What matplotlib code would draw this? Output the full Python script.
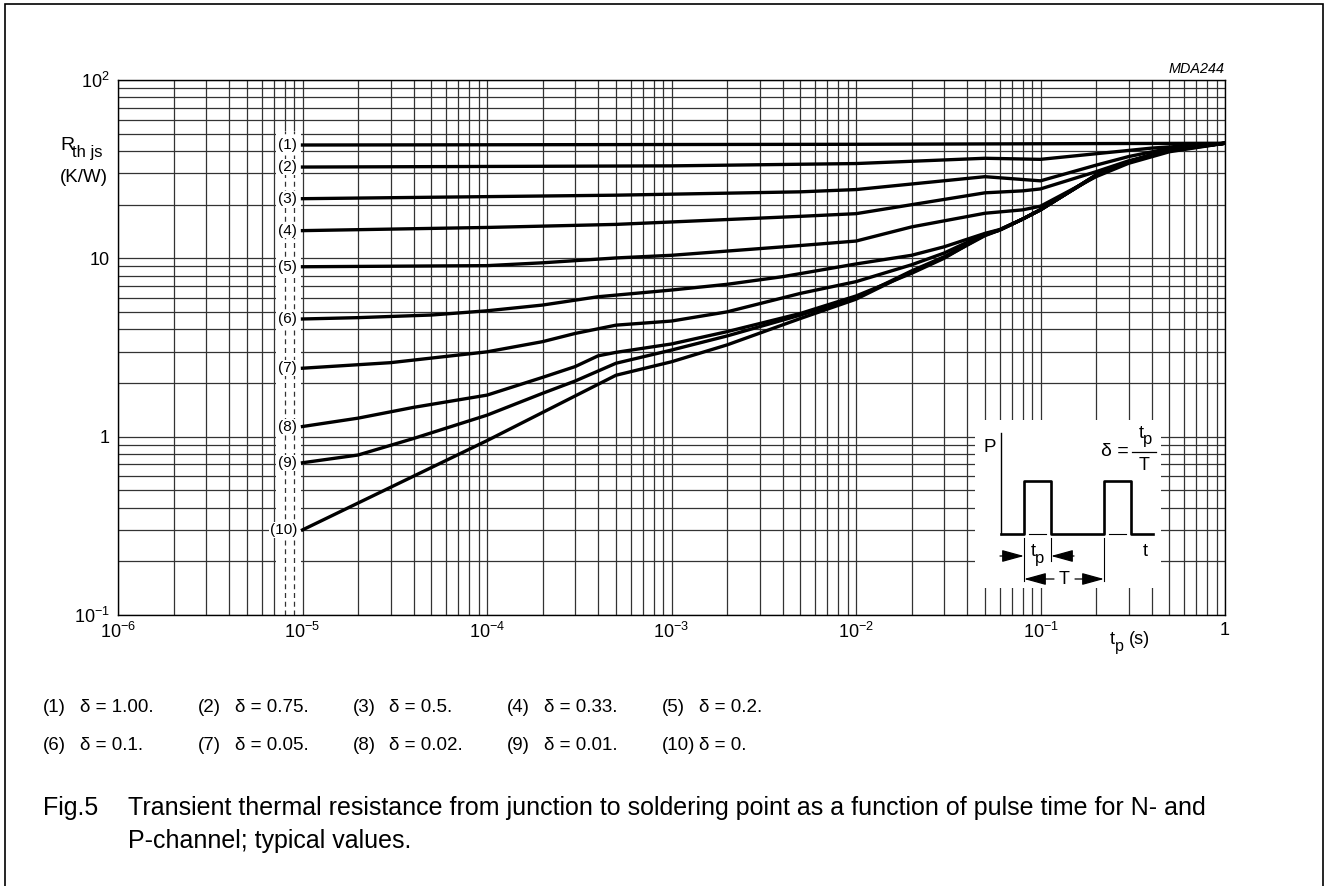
import matplotlib
matplotlib.use("Agg")
import matplotlib.pyplot as plt
from matplotlib.patches import Rectangle

plt.rcParams['font.family'] = ['Liberation Sans', 'DejaVu Sans']
plt.rcParams['mathtext.fontset'] = 'custom'
plt.rcParams['mathtext.rm'] = 'Liberation Sans'
plt.rcParams['mathtext.it'] = 'Liberation Sans:italic'

# Valeurs (tp en s, Rth js en K/W)
t_1 = [1e-5, 1e-2, 1]
r_1 = [43.2, 43.6, 44.2]
t_2 = [1e-5, 1e-3, 1e-2, 5e-2, 0.1, 0.2, 0.4, 1]
r_2 = [32.5, 33.0, 34.0, 36.4, 35.9, 38.6, 41.5, 44.2]
t_3 = [1e-5, 5e-4, 5e-3, 1e-2, 5e-2, 0.1, 0.2, 0.3, 0.5, 1]
r_3 = [21.6, 22.6, 23.6, 24.3, 28.7, 27.2, 33.3, 37.2, 41.4, 44.2]
t_4 = [1e-5, 1e-4, 5e-4, 5e-3, 1e-2, 5e-2, 8e-2, 0.1, 0.2, 0.3, 0.5, 1]
r_4 = [14.3, 14.9, 15.5, 17.2, 17.8, 23.3, 23.9, 24.5, 30.6, 35.2, 40.1, 44.2]
t_5 = [1e-5, 1e-4, 2e-4, 5e-4, 1e-3, 5e-3, 1e-2, 2e-2, 5e-2, 8e-2, 0.1, 0.2, 0.3, 0.5, 1]
r_5 = [8.97, 9.1, 9.44, 10.05, 10.4, 11.8, 12.5, 15.0, 17.9, 18.7, 19.6, 28.7, 34.1, 39.6, 44.2]
t_6 = [1e-5, 2e-5, 5e-5, 1e-4, 2e-4, 4e-4, 1e-3, 2e-3, 4e-3, 1e-2, 2e-2, 3e-2, 5e-2, 6e-2, 8e-2, 0.1, 0.2, 0.3, 0.5, 1]
r_6 = [4.57, 4.65, 4.81, 5.08, 5.47, 6.09, 6.64, 7.15, 7.89, 9.3, 10.4, 11.6, 13.8, 14.5, 16.6, 18.8, 29.0, 34.6, 40.6, 44.2]
t_7 = [1e-5, 3e-5, 1e-4, 2e-4, 3e-4, 5e-4, 1e-3, 2e-3, 5e-3, 1e-2, 2e-2, 3e-2, 5e-2, 6e-2, 8e-2, 0.1, 0.2, 0.3, 0.5, 1]
r_7 = [2.42, 2.6, 2.99, 3.41, 3.79, 4.22, 4.45, 5.01, 6.36, 7.4, 9.2, 10.7, 13.7, 14.4, 16.6, 18.7, 29.2, 34.7, 40.7, 44.2]
t_8 = [1e-5, 2e-5, 4e-5, 1e-4, 2e-4, 3e-4, 4e-4, 5e-4, 1e-3, 2e-3, 5e-3, 1e-2, 2e-2, 3e-2, 5e-2, 6e-2, 8e-2, 0.1, 0.2, 0.3, 0.5, 1]
r_8 = [1.14, 1.27, 1.46, 1.71, 2.15, 2.47, 2.84, 2.97, 3.31, 3.88, 4.91, 6.15, 8.24, 10.0, 13.6, 14.4, 16.6, 18.7, 29.3, 34.8, 40.8, 44.2]
t_9 = [1e-5, 2e-5, 4e-5, 1e-4, 2e-4, 3e-4, 5e-4, 1e-3, 2e-3, 5e-3, 1e-2, 2e-2, 3e-2, 5e-2, 6e-2, 8e-2, 0.1, 0.2, 0.3, 0.5, 1]
r_9 = [0.714, 0.789, 0.977, 1.32, 1.75, 2.05, 2.58, 3.06, 3.67, 4.81, 6.0, 8.5, 10.2, 13.5, 14.4, 16.6, 18.7, 29.3, 34.8, 40.8, 44.2]
t_10 = [1e-5, 1e-4, 5e-4, 1e-3, 2e-3, 5e-3, 1e-2, 2e-2, 3e-2, 5e-2, 6e-2, 8e-2, 0.1, 0.2, 0.3, 0.5, 1]
r_10 = [0.3, 0.95, 2.21, 2.63, 3.27, 4.6, 5.9, 8.4, 10.1, 13.4, 14.4, 16.6, 18.7, 29.3, 34.8, 40.8, 44.2]

courbes = [(t_1, r_1), (t_2, r_2), (t_3, r_3), (t_4, r_4), (t_5, r_5),
           (t_6, r_6), (t_7, r_7), (t_8, r_8), (t_9, r_9), (t_10, r_10)]
etiquettes = ["(1)", "(2)", "(3)", "(4)", "(5)", "(6)", "(7)", "(8)", "(9)", "(10)"]
deltas = ["1.00", "0.75", "0.5", "0.33", "0.2", "0.1", "0.05", "0.02", "0.01", "0"]

x_ticks = [1e-6, 1e-5, 1e-4, 1e-3, 1e-2, 1e-1, 1]
x_labels = [r"$\mathregular{10^{-6}}$", r"$\mathregular{10^{-5}}$", r"$\mathregular{10^{-4}}$",
            r"$\mathregular{10^{-3}}$", r"$\mathregular{10^{-2}}$", r"$\mathregular{10^{-1}}$", "1"]
y_ticks = [0.1, 1, 10, 100]
y_labels = [r"$\mathregular{10^{-1}}$", "1", "10", r"$\mathregular{10^{2}}$"]

W, H = 1327, 886

def fx(px):
    return px / W

def fy(py):
    return 1 - py / H

fig = plt.figure(figsize=(W / 100, H / 100), dpi=100)

# Cadre autour de la figure
fig.patches.append(Rectangle((fx(5), fy(892)), fx(1318), 888 / H, transform=fig.transFigure,
                             fill=False, edgecolor="black", linewidth=1.2))

ax = fig.add_axes([fx(118), fy(615), fx(1107), 535 / H])
ax.set_xscale("log")
ax.set_yscale("log")
ax.set_xlim(1e-6, 1)
ax.set_ylim(0.1, 100)

ax.grid(True, which="both", color="0.2", linewidth=0.9)
ax.set_axisbelow(True)
for s in ax.spines.values():
    s.set_linewidth(1.0)

ax.set_xticks(x_ticks)
ax.set_xticklabels(x_labels)
ax.set_yticks(y_ticks)
ax.set_yticklabels(y_labels)
ax.tick_params(which="both", length=0, labelsize=13)
ax.tick_params(axis="x", pad=5)
ax.tick_params(axis="y", pad=6)

# Colonne blanche des etiquettes
ax.add_patch(Rectangle((7.18e-6, 0.1), 9.82e-6 - 7.18e-6, 51.8 - 0.1, facecolor="white",
                       edgecolor="none", zorder=1.5))
for xg in [8e-6, 9e-6]:
    ax.plot([xg, xg], [0.1, 51.8], color="0.2", linewidth=0.9, linestyle=(0, (4, 3)), zorder=1.6)

for (t, r), lab in zip(courbes, etiquettes):
    ax.plot(t, r, color="black", linewidth=2.4, solid_joinstyle="round", zorder=3)
    ax.annotate(lab, xy=(t[0], r[0]), xytext=(-4, 0), textcoords="offset points",
                ha="right", va="center", fontsize=11, zorder=4,
                bbox=dict(facecolor="white", edgecolor="none", pad=0.5))

# Titres des axes
fig.text(fx(60), fy(146), "R", fontsize=14, ha="left", va="center")
fig.text(fx(72), fy(153), "th js", fontsize=12, ha="left", va="center")
fig.text(fx(60), fy(177), "(K/W)", fontsize=13.5, ha="left", va="center")
fig.text(fx(1110), fy(639), "t", fontsize=13, ha="left", va="center")
fig.text(fx(1115), fy(646), "p", fontsize=11.5, ha="left", va="center")
fig.text(fx(1129), fy(640), "(s)", fontsize=13, ha="left", va="center")
fig.text(fx(1225), fy(69), "MDA244", fontsize=10.4, style="italic", ha="right", va="center")

# Schema du signal
ins = fig.add_axes([fx(975), fy(588), fx(186), 168 / H])
ins.set_xlim(975, 1161)
ins.set_ylim(588, 420)
ins.axis("off")
ins.add_patch(Rectangle((975, 420), 186, 168, facecolor="white", edgecolor="none", zorder=0))
ins.plot([1001, 1001], [433, 534], color="black", linewidth=1.0)
ins.plot([1001, 1024, 1024, 1051, 1051, 1104, 1104, 1131, 1131, 1153],
         [534, 534, 481, 481, 534, 534, 481, 481, 534, 534], color="black", linewidth=1.9)
ins.plot([1029, 1046], [534, 534], color="black", linewidth=0.8)
ins.plot([1109, 1126], [534, 534], color="black", linewidth=0.8)
ins.plot([1024, 1024], [538, 581], color="black", linewidth=0.8)
ins.plot([1051, 1051], [538, 561], color="black", linewidth=0.8)
ins.plot([1104, 1104], [538, 581], color="black", linewidth=0.8)
fleche = dict(arrowstyle="-|>,head_length=0.8,head_width=0.22", color="black", lw=0.9,
              shrinkA=0, shrinkB=0, mutation_scale=17)
ins.annotate("", xy=(1024, 556), xytext=(1000, 556), arrowprops=fleche)
ins.annotate("", xy=(1051, 556), xytext=(1074, 556), arrowprops=fleche)
ins.annotate("", xy=(1024, 579), xytext=(1054, 579), arrowprops=fleche)
ins.annotate("", xy=(1104, 579), xytext=(1075, 579), arrowprops=fleche)
ins.text(1033, 552, "t", fontsize=13, ha="center", va="center")
ins.text(1040, 559, "p", fontsize=12, ha="center", va="center")
ins.text(1064, 579, "T", fontsize=13, ha="center", va="center")
ins.text(990, 447, "P", fontsize=13.5, ha="center", va="center")
ins.text(1145, 551, "t", fontsize=13, ha="center", va="center")
ins.text(1129, 452, "δ =", fontsize=14, ha="right", va="center")
ins.plot([1132, 1156], [452, 452], color="black", linewidth=0.9)
ins.text(1141, 433, "t", fontsize=13, ha="center", va="center")
ins.text(1148, 439, "p", fontsize=12, ha="center", va="center")
ins.text(1144, 465, "T", fontsize=13, ha="center", va="center")

# Legende sous le graphe
for i, (lab, d) in enumerate(zip(etiquettes, deltas)):
    col = i % 5
    row = i // 5
    x0 = 43 + 154.7 * col
    y0 = 708 + 38 * row
    fig.text(fx(x0), fy(y0), lab, fontsize=13.5, ha="left", va="center")
    fig.text(fx(x0 + 37), fy(y0), "δ = " + d + ".", fontsize=13.5, ha="left", va="center")

fig.text(fx(43), fy(808), "Fig.5", fontsize=18, ha="left", va="center")
fig.text(fx(128), fy(808), "Transient thermal resistance from junction to soldering point as a function of pulse time for N- and",
         fontsize=18, ha="left", va="center")
fig.text(fx(128), fy(841), "P-channel; typical values.", fontsize=18, ha="left", va="center")

fig.savefig("out.png", dpi=100)
